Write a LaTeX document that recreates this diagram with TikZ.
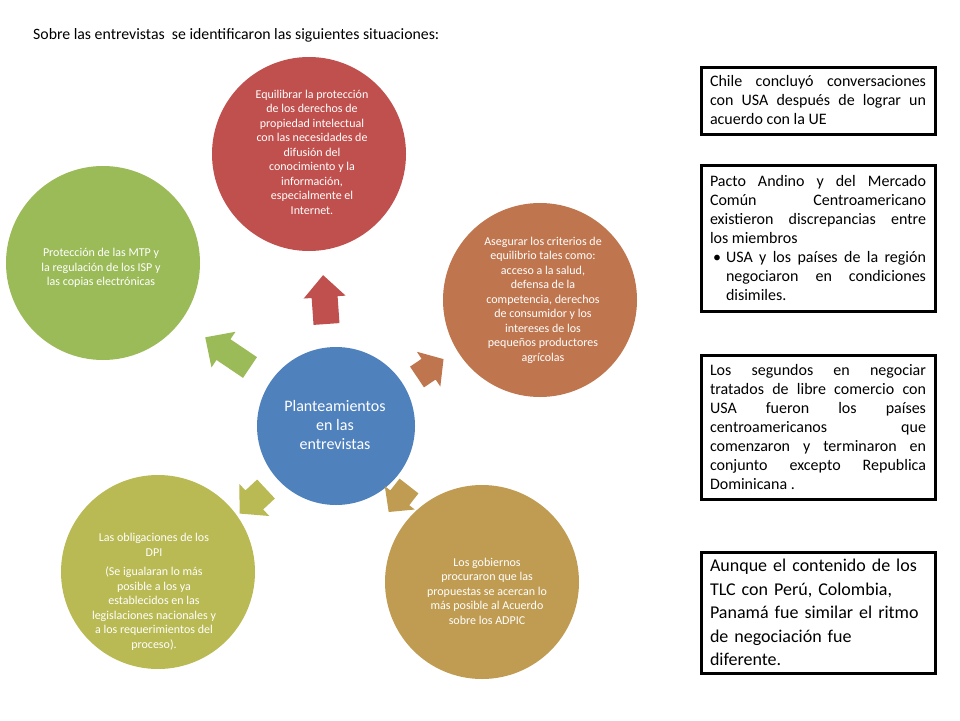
\documentclass[tikz,border=0pt]{standalone}
\usepackage{fontspec}
\setmainfont{Carlito}
\usetikzlibrary{positioning}

\definecolor{cBlue}{HTML}{4F81BD}
\definecolor{cRed}{HTML}{C0504D}
\definecolor{cOrange}{HTML}{BF764F}
\definecolor{cGold}{HTML}{BF9C52}
\definecolor{cOlive}{HTML}{BABA55}
\definecolor{cGreen}{HTML}{9BBB59}

\begin{document}
\begin{tikzpicture}[
            x=1pt, y=-1pt,
            bubble/.style={circle, inner sep=0pt, minimum size=194pt},
            btext/.style={text=white, align=center, inner sep=0pt,
                          font=\fontsize{12}{14.5}\selectfont},
            sidebox/.style={draw=black, line width=3pt, inner xsep=9pt, inner ysep=4pt,
                            text width=216pt, align=justify, anchor=north west,
                            font=\fontsize{16}{19}\selectfont}
                           ]
            \useasboundingbox (0,0) rectangle (960,720);

            % 1. Title line
            \node[anchor=base west, inner sep=0pt, font=\fontsize{15.8}{18}\selectfont] (titulo) at (33,39)
                {Sobre las entrevistas~ se identificaron las siguientes situaciones:};

            % 2. The five outer circles and the centre
            \node[bubble, fill=cRed]    (equilibrar) at (309,154) {};
            \node[bubble, fill=cOrange] (criterios)  at (540,300) {};
            \node[bubble, fill=cGold]   (gobiernos)  at (482,582) {};
            \node[bubble, fill=cOlive]  (obligaciones) at (158,572) {};
            \node[bubble, fill=cGreen]  (proteccion) at (103,263) {};
            \node[circle, inner sep=0pt, minimum size=158pt, fill=cBlue] (centro) at (336,426) {};

            % 3. Block arrows pointing out of the centre
            \foreach \bx/\by/\ang/\len/\hw/\sw/\hl/\col in {
                    326.5/324/94/49/42/26/22/cRed,
                    417/377/34/32/42/25/18/cOrange,
                    409/486/232/33/38/24/18/cGold,
                    266/489/223/36/44/26/20/cOlive,
                    250/367.5/146/54/43/25/22/cGreen} {
                \fill[\col, shift={(\bx,\by)}, rotate=\ang]
                    (0,-\sw/2) -- ({\len-\hl},-\sw/2) -- ({\len-\hl},-\hw/2) -- (\len,0)
                    -- ({\len-\hl},\hw/2) -- ({\len-\hl},\sw/2) -- (0,\sw/2) -- cycle;
            }

            % 4. Texts inside the circles
            \node[btext, font=\fontsize{16}{19}\selectfont] (centro-txt) at (335,425)
                {Planteamientos\\en las\\entrevistas};
            \node[btext] (equilibrar-txt) at (312,152)
                {Equilibrar la protección\\de los derechos de\\propiedad intelectual\\con las necesidades de\\difusión del\\conocimiento y la\\información,\\especialmente el\\Internet.};
            \node[btext] (criterios-txt) at (543,300)
                {Asegurar los criterios de\\equilibrio tales como:\\acceso a la salud,\\defensa de la\\competencia, derechos\\de consumidor y los\\intereses de los\\pequeños productores\\agrícolas};
            \node[btext] (gobiernos-txt) at (487,591)
                {Los gobiernos\\procuraron que las\\propuestas se acercan lo\\más posible al Acuerdo\\sobre los ADPIC};
            \node[btext] (obligaciones-txt) at (154,592)
                {Las obligaciones de los\\DPI\\[5pt](Se igualaran lo más\\posible a los ya\\establecidos en las\\legislaciones nacionales y\\a los requerimientos del\\proceso).};
            \node[btext] (proteccion-txt) at (101,268)
                {Protección de las MTP y\\la regulación de los ISP y\\las copias electrónicas};

            % 5. Boxes on the right
            \node[sidebox, minimum height=67pt] (chile) at (699.5,65.5)
                {Chile concluyó conversaciones\linebreak con USA después de lograr un\linebreak acuerdo con la UE};
            \node[sidebox, minimum height=146pt] (pacto) at (699.5,163.5)
                {Pacto Andino y del Mercado\linebreak Común Centroamericano\linebreak existieron discrepancias entre\linebreak los miembros\par
                 {\leftskip=16pt\noindent\llap{\makebox[16pt][l]{\hspace{3pt}•}}USA y los países de la región\linebreak negociaron en condiciones\linebreak disimiles.\par}};
            \node[sidebox, minimum height=144pt] (segundos) at (699.5,353.5)
                {Los segundos en negociar\linebreak tratados de libre comercio con\linebreak USA fueron los países\linebreak centroamericanos que\linebreak comenzaron y terminaron en\linebreak conjunto excepto Republica\linebreak Dominicana .};
            \node[sidebox, minimum height=121pt, align=left, font=\fontsize{18}{23.5}\selectfont] (tlc) at (699.5,550.5)
                {Aunque el contenido de los\\TLC con Perú, Colombia,\\Panamá fue similar el ritmo\\de negociación fue\\diferente.};

        \end{tikzpicture}
\end{document}
